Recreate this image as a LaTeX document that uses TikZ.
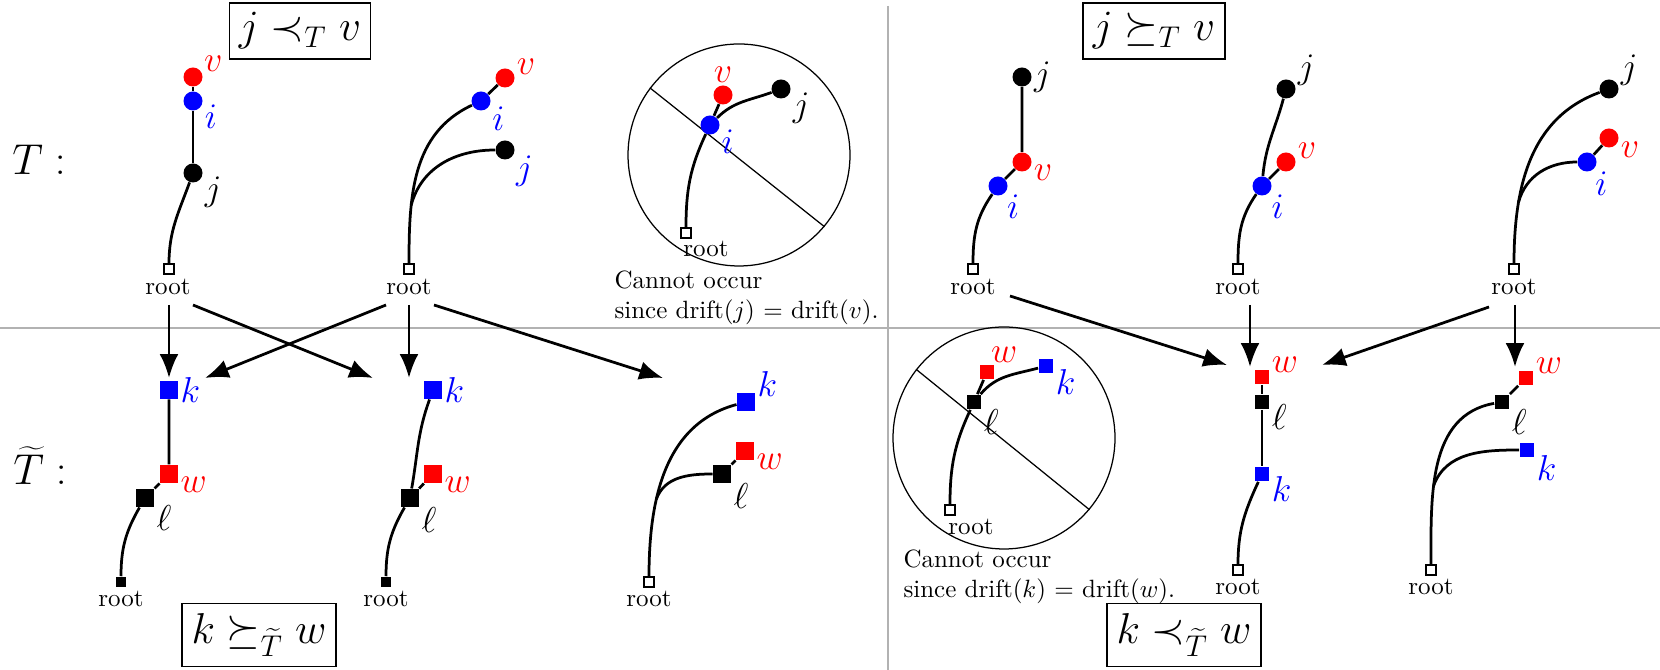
\documentclass[tikz,border=0pt]{standalone}
\usetikzlibrary{arrows.meta}
\begin{document}
\begin{tikzpicture}[x=0.4pt,y=-0.4pt,
  dot/.style={circle,fill,inner sep=0pt,minimum size=7.6pt},
  sqb/.style={rectangle,fill,inner sep=0pt,minimum size=7.2pt},
  sqs/.style={rectangle,fill,inner sep=0pt,minimum size=5.9pt},
  rt/.style={rectangle,draw,fill=white,inner sep=0pt,minimum size=3.9pt,line width=0.6pt},
  rtf/.style={rectangle,fill,inner sep=0pt,minimum size=4.2pt},
  lbl/.style={inner sep=0.6pt,font=\Large},
  edge/.style={line width=1.1pt},
  arr/.style={line width=1.1pt,-{Latex[length=9.5pt,width=7.5pt]}},
  ttl/.style={draw,line width=0.5pt,font=\LARGE,inner sep=0pt},
  rtxt/.style={inner sep=0pt},
  sep/.style={line width=0.7pt,black!30},
  ring/.style={circle,draw,line width=0.5pt,inner sep=0pt,minimum size=88.8pt},
  note/.style={inner sep=0pt,align=left,anchor=north west}
]
\useasboundingbox (0,0) rectangle (1660,670);
% separators
\draw[sep] (0,328) -- (1660,328);
\draw[sep] (888,6) -- (888,670);

% titles
\node[ttl,minimum width=56.4pt,minimum height=22.4pt] (h1) at (300,31) {$j \prec_T v$};
\node[ttl,minimum width=56.8pt,minimum height=22.4pt] (h2) at (1154,31) {$j \succeq_T v$};
\node[ttl,minimum width=61.6pt,minimum height=25.2pt] (h3) at (259,635) {$k \succeq_{\widetilde{T}} w$};
\node[ttl,minimum width=61.6pt,minimum height=25.2pt] (h4) at (1184,635) {$k \prec_{\widetilde{T}} w$};
\node[font=\LARGE,inner sep=0pt] (lT) at (39,160) {$T:$};
\node[font=\LARGE,inner sep=0pt] (lTT) at (40,466) {$\widetilde{T}:$};

% ---------- T1
\node[dot,red,label={[lbl,red]23:$v$}] (t1v) at (193,77) {};
\node[dot,blue,label={[lbl,blue]-12:$i$}] (t1i) at (193,101) {};
\node[dot,label={[lbl]-12:$j$}] (t1j) at (193,173) {};
\node[rt] (t1r) at (169,269) {};
\node[rtxt] (t1t) at (168,287) {root};
\draw[edge] (t1v) -- (t1i) -- (t1j);
\draw[edge] (t1r.north) to[out=90,in=250] (t1j);

% ---------- T2
\node[dot,red,label={[lbl,red]11:$v$}] (t2v) at (505,78) {};
\node[dot,blue,label={[lbl,blue]-20:$i$}] (t2i) at (481,101) {};
\node[dot,label={[lbl,blue]-24:$j$}] (t2j) at (505,150) {};
\node[rt] (t2r) at (409,269) {};
\node[rtxt] (t2t) at (409,287) {root};
\draw[edge] (t2r.north) to[out=90,in=205] coordinate[pos=0.3] (t2b) (t2i);
\draw[edge] (t2i) -- (t2v);
\draw[edge] (t2b) to[out=75,in=180] (t2j);

% ---------- top circle
\node[ring] (c1) at (739,155) {};
\draw[line width=0.5pt] (c1.143) -- (c1.-40);
\node[dot,red,label={[lbl,red]90:$v$}] (tcv) at (723,95) {};
\node[dot,label={[lbl]-12:$j$}] (tcj) at (781,89) {};
\node[dot,blue,label={[lbl,blue]-15:$i$}] (tci) at (710,125) {};
\node[rt] (tcr) at (686,233) {};
\node[rtxt] (tct) at (706,249) {root};
\draw[edge] (tcr.north) to[out=90,in=245] (tci);
\draw[edge] (tci) to[out=45,in=200] (tcj);
\draw[edge] (tci) -- (tcv);
\node[note] (n1) at (614,270) {Cannot occur\\since drift($j$) = drift($v$).};

% ---------- T3
\node[dot,label={[lbl]0:$j$}] (t3j) at (1022,77) {};
\node[dot,red,label={[lbl,red]-8:$v$}] (t3v) at (1022,162) {};
\node[dot,blue,label={[lbl,blue]-45:$i$}] (t3i) at (998,186) {};
\node[rt] (t3r) at (973,269) {};
\node[rtxt] (t3t) at (973,287) {root};
\draw[edge] (t3r.north) to[out=90,in=235] (t3i);
\draw[edge] (t3i) -- (t3v) -- (t3j);

% ---------- T4
\node[dot,label={[lbl]9:$j$}] (t4j) at (1286,89) {};
\node[dot,red,label={[lbl,red]11:$v$}] (t4v) at (1286,162) {};
\node[dot,blue,label={[lbl,blue]-40:$i$}] (t4i) at (1262,186) {};
\node[rt] (t4r) at (1238,269) {};
\node[rtxt] (t4t) at (1238,287) {root};
\draw[edge] (t4r.north) to[out=90,in=235] (t4i);
\draw[edge] (t4i) -- (t4v);
\draw[edge] (t4i) to[out=85,in=255] (t4j);

% ---------- T5
\node[dot,label={[lbl]10:$j$}] (t5j) at (1609,89) {};
\node[dot,red,label={[lbl,red]-10:$v$}] (t5v) at (1609,138) {};
\node[dot,blue,label={[lbl,blue]-50:$i$}] (t5i) at (1587,162) {};
\node[rt] (t5r) at (1514,269) {};
\node[rtxt] (t5t) at (1514,287) {root};
\draw[edge] (t5r.north) to[out=90,in=200] coordinate[pos=0.28] (t5b) (t5j);
\draw[edge] (t5b) to[out=75,in=180] (t5i);
\draw[edge] (t5i) -- (t5v);

% ---------- TT1
\node[sqb,blue,label={[lbl,blue]0:$k$}] (k1) at (169,390) {};
\node[sqb,red,label={[lbl,red]-6:$w$}] (w1) at (169,474) {};
\node[sqb,label={[lbl]-32:$\ell$}] (l1) at (145,498) {};
\node[rtf] (r1) at (121,582) {};
\node[rtxt] (r1t) at (121,599) {root};
\draw[edge] (k1) -- (w1) -- (l1);
\draw[edge] (r1.north) to[out=90,in=240] (l1);

% ---------- TT2
\node[sqb,blue,label={[lbl,blue]0:$k$}] (k2) at (433,390) {};
\node[sqb,red,label={[lbl,red]-6:$w$}] (w2) at (433,474) {};
\node[sqb,label={[lbl]-40:$\ell$}] (l2) at (410,498) {};
\node[rtf] (r2) at (386,582) {};
\node[rtxt] (r2t) at (386,599) {root};
\draw[edge] (w2) -- (l2);
\draw[edge] (l2) to[out=80,in=250] (k2);
\draw[edge] (r2.north) to[out=90,in=240] (l2);

% ---------- TT3
\node[sqb,blue,label={[lbl,blue]20:$k$}] (k3) at (746,402) {};
\node[sqb,red,label={[lbl,red]-5:$w$}] (w3) at (745,451) {};
\node[sqb,label={[lbl]-40:$\ell$}] (l3) at (722,474) {};
\node[rt] (r3) at (649,582) {};
\node[rtxt] (r3t) at (649,599) {root};
\draw[edge] (r3.north) to[out=90,in=195] coordinate[pos=0.35] (b3) (k3);
\draw[edge] (b3) to[out=70,in=180] (l3);
\draw[edge] (l3) -- (w3);

% ---------- bottom circle
\node[ring] (c2) at (1004,438) {};
\draw[line width=0.5pt] (c2.142) -- (c2.-40);
\node[sqs,red,label={[lbl,red]75:$w$}] (wc) at (987,372) {};
\node[sqs,blue,label={[lbl,blue]-8:$k$}] (kc) at (1046,366) {};
\node[sqs,label={[lbl]-36:$\ell$}] (lc) at (974,402) {};
\node[rt] (rc) at (950,510) {};
\node[rtxt] (rct) at (971,527) {root};
\draw[edge] (rc.north) to[out=90,in=245] (lc);
\draw[edge] (lc) to[out=50,in=195] (kc);
\draw[edge] (lc) -- (wc);
\node[note] (n2) at (903,549) {Cannot occur\\since drift($k$) = drift($w$).};

% ---------- TT4
\node[sqs,red,label={[lbl,red]16:$w$}] (w4) at (1262,377) {};
\node[sqs,label={[lbl]-7:$\ell$}] (l4) at (1262,402) {};
\node[sqs,blue,label={[lbl,blue]-5:$k$}] (k4) at (1262,474) {};
\node[rt] (r4) at (1238,570) {};
\node[rtxt] (r4t) at (1238,587) {root};
\draw[edge] (w4) -- (l4) -- (k4);
\draw[edge] (r4.north) to[out=90,in=245] (k4);

% ---------- TT5
\node[sqs,red,label={[lbl,red]18:$w$}] (w5) at (1526,378) {};
\node[sqs,label={[lbl]-36:$\ell$}] (l5) at (1502,402) {};
\node[sqs,blue,label={[lbl,blue]-23:$k$}] (k5) at (1527,450) {};
\node[rt] (r5) at (1431,570) {};
\node[rtxt] (r5t) at (1431,587) {root};
\draw[edge] (r5.north) to[out=90,in=190] coordinate[pos=0.38] (b5) (l5);
\draw[edge] (b5) to[out=70,in=180] (k5);
\draw[edge] (l5) -- (w5);

% ---------- arrows
\coordinate (s1) at (169,305); \coordinate (e1) at (169,378);
\coordinate (s2) at (193,305); \coordinate (e2) at (373,378);
\coordinate (s3) at (386,305); \coordinate (e3) at (205,378);
\coordinate (s4) at (409,305); \coordinate (e4) at (409,378);
\coordinate (s5) at (434,305); \coordinate (e5) at (663,378);
\coordinate (s6) at (1010,296); \coordinate (e6) at (1227,365);
\coordinate (s7) at (1250,305); \coordinate (e7) at (1250,367);
\coordinate (s8) at (1489,307); \coordinate (e8) at (1322,365);
\coordinate (s9) at (1515,305); \coordinate (e9) at (1515,367);
\foreach \n in {1,...,9}{\draw[arr] (s\n) -- (e\n);}
\end{tikzpicture}
\end{document}
